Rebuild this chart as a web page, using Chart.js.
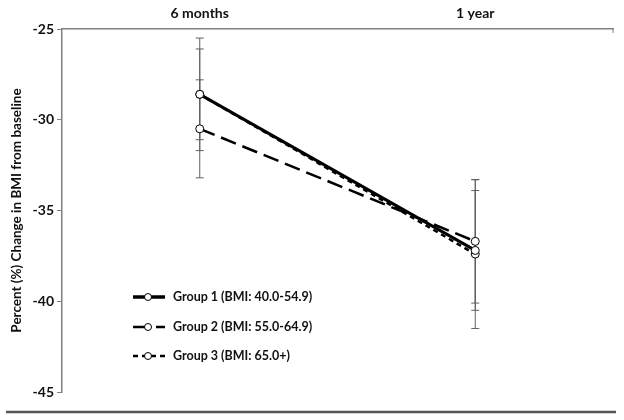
<!DOCTYPE html>
<html>
<head>
<meta charset="utf-8">
<script src="https://cdn.jsdelivr.net/npm/chart.js@4"></script>
<style>
    html, body { margin: 0; padding: 0; background: #fff; }
    #wrap { width: 624px; height: 420px; }
</style>
</head>
<body>
<div id="wrap"><canvas id="bmi-chart"></canvas></div>
<script>
const timepoints = ['6 months', '1 year'];
const yTicks = [-25, -30, -35, -40, -45];

const groupLabels = ['Group 1 (BMI: 40.0-54.9)', 'Group 2 (BMI: 55.0-64.9)', 'Group 3 (BMI: 65.0+)'];
const group1 = [-28.6, -37.2];
const group2 = [-30.5, -36.7];
const group3 = [-28.6, -37.4];
const group1Err = [3.1, 3.3];
const group2Err = [2.7, 3.4];
const group3Err = [2.5, 4.1];

const FONT = 'Lato, "Open Sans", sans-serif';

const lineStyles = [
    { width: 3, dash: [] },
    { width: 2.5, dash: [16, 7] },
    { width: 2.5, dash: [5, 4] }
];

// error bars drawn behind the lines
const errorBars = {
    id: 'errorBars',
    beforeDatasetsDraw(chart) {
        const ctx = chart.ctx;
        const y = chart.scales.y;
        ctx.save();
        ctx.strokeStyle = '#606060';
        ctx.lineWidth = 1;
        chart.data.datasets.forEach((ds, i) => {
            const meta = chart.getDatasetMeta(i);
            meta.data.forEach((pt, j) => {
                const v = ds.data[j];
                const e = ds.errors[j];
                const top = y.getPixelForValue(v + e);
                const bot = y.getPixelForValue(v - e);
                ctx.beginPath();
                ctx.moveTo(pt.x, top);
                ctx.lineTo(pt.x, bot);
                ctx.moveTo(pt.x - 4, top);
                ctx.lineTo(pt.x + 4, top);
                ctx.moveTo(pt.x - 4, bot);
                ctx.lineTo(pt.x + 4, bot);
                ctx.stroke();
            });
        });
        ctx.restore();
    }
};

// legend inside the plot + bottom rule
const extras = {
    id: 'extras',
    afterDraw(chart) {
        const ctx = chart.ctx;
        ctx.save();
        const legendY = [297, 327, 356];
        groupLabels.forEach((label, i) => {
            const ly = legendY[i];
            ctx.strokeStyle = '#000';
            ctx.lineWidth = i === 0 ? 3.5 : lineStyles[i].width;
            ctx.setLineDash(lineStyles[i].dash);
            ctx.beginPath();
            ctx.moveTo(133, ly);
            ctx.lineTo(165, ly);
            ctx.stroke();
            ctx.setLineDash([]);
            ctx.lineWidth = 1;
            ctx.fillStyle = '#fff';
            ctx.beginPath();
            ctx.arc(148, ly, 3.5, 0, Math.PI * 2);
            ctx.fill();
            ctx.stroke();
            ctx.fillStyle = '#111';
            ctx.font = 'bold 12.5px ' + FONT;
            ctx.textBaseline = 'middle';
            ctx.fillText(label, 173, ly);
        });

        ctx.strokeStyle = '#555';
        ctx.lineWidth = 2.5;
        ctx.beginPath();
        ctx.moveTo(6, 412);
        ctx.lineTo(616, 412);
        ctx.stroke();

        // small tick at right end of top axis
        ctx.strokeStyle = '#808080';
        ctx.lineWidth = 1;
        ctx.beginPath();
        ctx.moveTo(chart.chartArea.right, chart.chartArea.top);
        ctx.lineTo(chart.chartArea.right, chart.chartArea.top + 4);
        ctx.stroke();
        ctx.restore();
    }
};

const groups = [group1, group2, group3];
const errs = [group1Err, group2Err, group3Err];

const datasets = groups.map((g, i) => ({
    label: groupLabels[i],
    data: g,
    errors: errs[i],
    borderColor: '#000',
    borderWidth: lineStyles[i].width,
    borderDash: lineStyles[i].dash,
    pointRadius: 4,
    pointBorderWidth: 1,
    pointBackgroundColor: '#fff',
    pointBorderColor: '#000',
    fill: false,
    tension: 0
}));

new Chart(document.getElementById('bmi-chart'), {
    type: 'line',
    data: {
        labels: timepoints,
        datasets: datasets
    },
    options: {
        responsive: true,
        maintainAspectRatio: false,
        animation: false,
        layout: {
            padding: { left: 9, right: 11, top: 0, bottom: 28 }
        },
        plugins: {
            legend: { display: false },
            tooltip: { enabled: false }
        },
        scales: {
            x: {
                type: 'category',
                position: 'top',
                offset: true,
                grid: { display: false },
                border: { display: true, color: '#808080', width: 1.5 },
                ticks: {
                    color: '#111',
                    font: { family: FONT, size: 14, weight: 'bold' },
                    padding: -1
                },
                afterFit: function(scale) {
                    scale.height = 29;
                }
            },
            y: {
                min: -45,
                max: -25,
                afterBuildTicks: function(scale) {
                    scale.ticks = yTicks.map(v => ({ value: v }));
                },
                grid: {
                    display: true,
                    drawOnChartArea: false,
                    drawTicks: true,
                    tickLength: 5,
                    color: '#808080'
                },
                border: { display: true, color: '#808080', width: 1.5 },
                ticks: {
                    color: '#111',
                    font: { family: FONT, size: 14, weight: 'bold' },
                    padding: 3
                },
                title: {
                    display: true,
                    text: 'Percent (%) Change in BMI from baseline',
                    color: '#111',
                    font: { family: FONT, size: 13.5, weight: 'bold' },
                    padding: { top: 0, bottom: 4 }
                },
                afterFit: function(scale) {
                    scale.width = 53;
                }
            }
        }
    },
    plugins: [errorBars, extras]
});
</script>
</body>
</html>
